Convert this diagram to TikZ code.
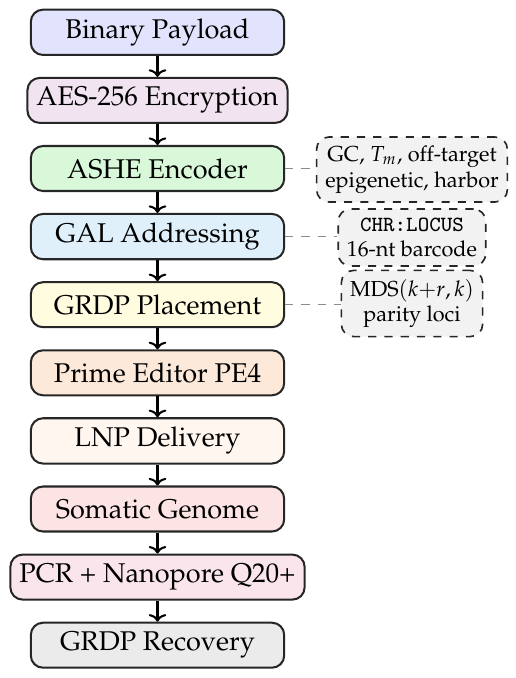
\documentclass[tikz,border=0pt]{standalone}
\usepackage[TU,T1]{fontenc}
\usepackage{mathpazo}
\usetikzlibrary{arrows.meta}
\definecolor{cBin}{HTML}{E2E3FC}
\definecolor{cAES}{HTML}{F1E4F0}
\definecolor{cASHE}{HTML}{D9F8D9}
\definecolor{cGAL}{HTML}{DFF0FB}
\definecolor{cGRDP}{HTML}{FFFCE0}
\definecolor{cPE}{HTML}{FDE9D9}
\definecolor{cLNP}{HTML}{FFF6F0}
\definecolor{cSom}{HTML}{FDE4E4}
\definecolor{cPCR}{HTML}{FBE5EC}
\definecolor{cRec}{HTML}{EBEBEB}
\definecolor{cSide}{HTML}{F2F2F2}
\newcommand{\monotext}[1]{{\fontencoding{TU}\fontfamily{lmtt}\selectfont #1}}
\tikzset{
  mainbox/.style={draw=black!85, line width=0.75pt, rounded corners=4.5pt,
    minimum width=93.5pt, minimum height=16.6pt, inner sep=3.33pt, font=\normalsize},
  sidebox/.style={draw=black!85, line width=0.6pt, dashed, rounded corners=4.5pt,
    fill=cSide, font=\footnotesize, align=center, inner sep=3.2pt},
  flowarr/.style={line width=0.75pt, -{To[length=2.8pt,width=6.5pt]}},
  sidelink/.style={draw=black!45, line width=0.5pt, dashed}
}
\begin{document}
\begin{tikzpicture}[x=0.369pt, y=-0.369pt]
\useasboundingbox (0,0) rectangle (515,678);
\node[mainbox, fill=cBin]  (bin)  at (157.5,32.3)  {Binary Payload};
\node[mainbox, fill=cAES]  (aes)  at (157.5,100.4) {AES-256 Encryption};
\node[mainbox, fill=cASHE] (ashe) at (157.5,168.5) {ASHE Encoder};
\node[mainbox, fill=cGAL]  (gal)  at (157.5,236.6) {GAL Addressing};
\node[mainbox, fill=cGRDP] (grdp) at (157.5,304.7) {GRDP Placement};
\node[mainbox, fill=cPE]   (pe)   at (157.5,372.8) {Prime Editor PE4};
\node[mainbox, fill=cLNP]  (lnp)  at (157.5,440.9) {LNP Delivery};
\node[mainbox, fill=cSom]  (som)  at (157.5,509.0) {Somatic Genome};
\node[mainbox, fill=cPCR]  (pcr)  at (157.5,577.1) {PCR + Nanopore Q20+};
\node[mainbox, fill=cRec]  (rec)  at (157.5,645.2) {GRDP Recovery};

\node[sidebox] (s1) at (412,169.5) {GC, $T_m$, off-target\\epigenetic, harbor};
\node[sidebox] (s2) at (412,237.5) {\monotext{CHR:LOCUS}\\16-nt barcode};
\node[sidebox] (s3) at (412,303.5) {MDS$(k{+}r,k)$\\parity loci};

\draw[flowarr] (bin) -- (aes);
\draw[flowarr] (aes) -- (ashe);
\draw[flowarr] (ashe) -- (gal);
\draw[flowarr] (gal) -- (grdp);
\draw[flowarr] (grdp) -- (pe);
\draw[flowarr] (pe) -- (lnp);
\draw[flowarr] (lnp) -- (som);
\draw[flowarr] (som) -- (pcr);
\draw[flowarr] (pcr) -- (rec);

\draw[sidelink] (ashe.east) -- (ashe.east -| s1.west);
\draw[sidelink] (gal.east) -- (gal.east -| s2.west);
\draw[sidelink] (grdp.east) -- (grdp.east -| s3.west);
\end{tikzpicture}
\end{document}
